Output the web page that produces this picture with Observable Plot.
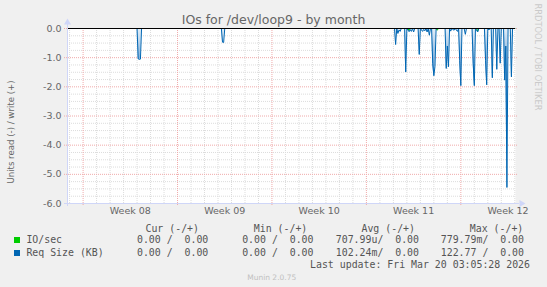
<!DOCTYPE html>
<html><head><meta charset="utf-8">
<script src="https://cdn.jsdelivr.net/npm/d3@7"></script>
<script src="https://cdn.jsdelivr.net/npm/@observablehq/plot@0.6"></script>
<style>
html,body{margin:0;padding:0;background:#f0f0f0;}
#wrap{position:relative;width:547px;height:287px;overflow:hidden;background:#f0f0f0;}
#wrap svg{position:absolute;left:0;top:0;}
.t{position:absolute;white-space:pre;line-height:1;color:#666;font-family:"DejaVu Sans",sans-serif;}
.m{font-family:"DejaVu Sans Mono",monospace;font-size:9.9px;color:#555;}
.sw{position:absolute;width:6px;height:6px;}
</style></head><body><div id="wrap"></div>
<script>
// ---------------- data ----------------
const title = "IOs for /dev/loop9 - by month";
const yAxisLabel = "Units read (-) / write (+)";
const credit = "RRDTOOL / TOBI OETIKER";
const footer = "Munin 2.0.75";
const lastUpdate = "Last update: Fri Mar 20 03:05:28 2026";
const timeRange = ["2026-02-14T20:15Z", "2026-03-20T01:15Z"];
const weekTickDates = ["2026-02-19T12:00Z", "2026-02-26T12:00Z", "2026-03-05T12:00Z", "2026-03-12T12:00Z", "2026-03-19T12:00Z"];
const weekTickLabels = ["Week 08", "Week 09", "Week 10", "Week 11", "Week 12"];
const yTickValues = [0, -1, -2, -3, -4, -5, -6];
const yTickLabels = ["0.0", "-1.0", "-2.0", "-3.0", "-4.0", "-5.0", "-6.0"];
const seriesNames = ["IO/sec", "Req Size (KB)"];
const legendHeaders = ["Cur (-/+)", "Min (-/+)", "Avg (-/+)", "Max (-/+)"];
const curValues = ["0.00 /  0.00", "0.00 /  0.00"];
const minValues = ["0.00 /  0.00", "0.00 /  0.00"];
const avgValues = ["707.99u/  0.00", "102.24m/  0.00"];
const maxValues = ["779.79m/  0.00", "122.77 /  0.00"];

// IO/sec (read side, negative)
const ioTimes = ["2026-02-14T22:00Z", "2026-03-12T02:00Z", "2026-03-12T04:00Z", "2026-03-12T06:00Z",
  "2026-03-14T04:00Z", "2026-03-14T06:00Z", "2026-03-14T08:00Z",
  "2026-03-17T04:00Z", "2026-03-17T06:00Z", "2026-03-17T08:00Z", "2026-03-20T00:00Z"];
const ioValues = [0, 0, -0.07, 0, 0, -0.06, 0, 0, -0.08, 0, 0];

// Req Size (KB) (read side, negative)
const reqTimes = [
  "2026-02-14T22:00Z",
  "2026-02-20T00:00Z", "2026-02-20T02:00Z", "2026-02-20T04:00Z", "2026-02-20T06:00Z", "2026-02-20T08:00Z",
  "2026-02-26T06:00Z", "2026-02-26T08:00Z", "2026-02-26T10:00Z", "2026-02-26T12:00Z",
  "2026-03-11T02:00Z", "2026-03-11T04:00Z", "2026-03-11T06:00Z", "2026-03-11T08:00Z", "2026-03-11T10:00Z", "2026-03-11T12:00Z", "2026-03-11T14:00Z",
  "2026-03-11T20:00Z", "2026-03-11T22:00Z", "2026-03-12T00:00Z",
  "2026-03-12T04:00Z", "2026-03-12T06:00Z", "2026-03-12T08:00Z", "2026-03-12T10:00Z", "2026-03-12T12:00Z", "2026-03-12T14:00Z",
  "2026-03-12T20:00Z", "2026-03-12T22:00Z", "2026-03-13T00:00Z",
  "2026-03-13T04:00Z", "2026-03-13T06:00Z", "2026-03-13T08:00Z", "2026-03-13T10:00Z", "2026-03-13T12:00Z", "2026-03-13T14:00Z",
  "2026-03-13T16:00Z", "2026-03-13T18:00Z",
  "2026-03-13T20:00Z", "2026-03-13T22:00Z", "2026-03-14T00:00Z", "2026-03-14T02:00Z", "2026-03-14T04:00Z",
  "2026-03-14T20:00Z", "2026-03-14T22:00Z", "2026-03-15T00:00Z", "2026-03-15T02:00Z", "2026-03-15T04:00Z",
  "2026-03-15T06:00Z", "2026-03-15T08:00Z", "2026-03-15T12:00Z", "2026-03-15T14:00Z", "2026-03-15T18:00Z", "2026-03-15T20:00Z",
  "2026-03-15T22:00Z", "2026-03-16T00:00Z", "2026-03-16T02:00Z",
  "2026-03-16T06:00Z", "2026-03-16T08:00Z", "2026-03-16T10:00Z",
  "2026-03-16T20:00Z", "2026-03-16T22:00Z", "2026-03-17T00:00Z", "2026-03-17T02:00Z",
  "2026-03-17T06:00Z", "2026-03-17T08:00Z",
  "2026-03-17T18:00Z", "2026-03-17T20:00Z", "2026-03-17T22:00Z", "2026-03-18T00:00Z",
  "2026-03-18T02:00Z", "2026-03-18T04:00Z",
  "2026-03-18T06:00Z", "2026-03-18T08:00Z", "2026-03-18T10:00Z",
  "2026-03-18T14:00Z", "2026-03-18T16:00Z", "2026-03-18T18:00Z",
  "2026-03-18T20:00Z", "2026-03-18T22:00Z", "2026-03-19T00:00Z",
  "2026-03-19T04:00Z", "2026-03-19T06:00Z", "2026-03-19T08:00Z", "2026-03-19T10:00Z", "2026-03-19T12:00Z",
  "2026-03-19T16:00Z", "2026-03-19T18:00Z", "2026-03-19T20:00Z",
  "2026-03-20T00:00Z"
];
const reqValues = [
  0,
  0, -1.04, -1.06, -1.05, 0,
  0, -0.47, -0.48, 0,
  0, -0.55, 0, -0.17, -0.05, -0.10, 0,
  0, -1.49, 0,
  -0.11, -0.04, -0.10, 0, -0.12, 0,
  0, -0.89, 0,
  -0.10, -0.03, -0.08, 0, -0.12, 0,
  -0.23, 0,
  0, -1.20, -1.62, -1.30, 0,
  0, -1.37, -0.60, -1.31, 0,
  -0.09, 0, -0.06, 0, -0.10, 0,
  -1.10, -1.96, 0,
  0, -0.20, 0,
  0, -1.20, -1.96, 0,
  -0.12, 0,
  0, -1.10, -1.93, 0,
  -0.05, 0,
  0, -1.69, 0,
  0, -1.40, 0,
  0, -1.19, 0,
  0, -1.77, -0.60, -5.45, 0,
  0, -1.66, 0,
  0
];

// ---------------- chart ----------------
const seriesColors = ["#00cc00", "#0066b3"];
const parse = s => new Date(s);
const io = ioTimes.map((t, i) => ({t: parse(t), v: ioValues[i]}));
const req = reqTimes.map((t, i) => ({t: parse(t), v: reqValues[i]}));
const [t0, t1] = timeRange.map(parse);
const weekLines = d3.utcMonday.range(t0, t1);
const dayLines = d3.utcDay.range(t0, t1).filter(d => d.getUTCDay() !== 1);
const minorY = d3.range(-24, 1).map(k => k / 4).filter(v => !Number.isInteger(v));
const xLabelMap = new Map(weekTickDates.map((d, i) => [+parse(d), weekTickLabels[i]]));
const yLabelMap = new Map(yTickValues.map((v, i) => [v, yTickLabels[i]]));
const axisColor = "#cfd6f8";
const minorGrid = "#dcdcdc";
const majorGrid = "#f0aaaa";

const chart = Plot.plot({
  width: 547, height: 287,
  marginLeft: 67, marginRight: 32, marginTop: 28, marginBottom: 84,
  style: {background: "transparent", color: "#666", fontFamily: "DejaVu Sans", overflow: "visible"},
  x: {type: "utc", domain: [t0, t1]},
  y: {type: "linear", domain: [-6, 0]},
  marks: [
    Plot.frame({fill: "#ffffff", stroke: "none"}),
    Plot.ruleY(minorY, {stroke: minorGrid, strokeDasharray: "1,1"}),
    Plot.ruleX(dayLines, {stroke: minorGrid, strokeDasharray: "1,1"}),
    Plot.ruleY(yTickValues, {stroke: majorGrid, strokeDasharray: "1,1", insetLeft: -3, insetRight: -3}),
    Plot.ruleX(weekLines, {stroke: majorGrid, strokeDasharray: "1,1", insetBottom: -3}),
    Plot.areaY(req, {x: "t", y: "v", fill: "#8fb8de"}),
    Plot.lineY(io, {x: "t", y: "v", stroke: seriesColors[0], strokeWidth: 1}),
    Plot.lineY(req, {x: "t", y: "v", stroke: seriesColors[1], strokeWidth: 1}),
    Plot.ruleY([0], {stroke: "#000000", strokeWidth: 1}),
    Plot.ruleY([-6], {stroke: axisColor, insetLeft: -3, insetRight: -4}),
    Plot.ruleX([t0], {stroke: axisColor, insetTop: -4, insetBottom: -3}),
    Plot.dot([{t: t1, v: -6}], {x: "t", y: "v", symbol: "triangle", r: 2.6, rotate: 90, fill: axisColor, stroke: "none", dx: 6}),
    Plot.dot([{t: t0, v: 0}], {x: "t", y: "v", symbol: "triangle", r: 2.6, fill: axisColor, stroke: "none", dy: -6}),
    Plot.axisY(yTickValues, {label: null, tickSize: 0, tickPadding: 6, tickFormat: v => yLabelMap.get(v), fontSize: 9.5, fill: "#666"}),
    Plot.axisX(weekTickDates.map(parse), {label: null, tickSize: 0, tickPadding: 4, tickFormat: d => xLabelMap.get(+d), fontSize: 9.5, fill: "#666"})
  ]
});

// soft gradient inside the spikes
const ys = chart.scale("y");
const g0 = ys.apply(0), g1 = ys.apply(-1.6);
d3.select(chart).insert("defs", ":first-child").html(
  `<linearGradient id="spikeFill" gradientUnits="userSpaceOnUse" x1="0" y1="${g0}" x2="0" y2="${g1}">` +
  `<stop offset="0" stop-color="#e6f0f9"/><stop offset="1" stop-color="#4d90cc"/></linearGradient>`);
d3.select(chart).selectAll("g[aria-label=area] path").attr("fill", "url(#spikeFill)");

const wrap = document.getElementById("wrap");
wrap.appendChild(chart);

function label(text, x, y, opts = {}) {
  const {anchor = "start", cls = "t", size, color, rotate = 0} = opts;
  const el = document.createElement("div");
  el.className = cls;
  el.textContent = text;
  el.style.left = x + "px";
  el.style.top = y + "px";
  if (size) el.style.fontSize = size + "px";
  if (color) el.style.color = color;
  const tx = anchor === "start" ? "0" : anchor === "end" ? "-100%" : "-50%";
  el.style.transform = `translate(${tx},-50%)` + (rotate ? ` rotate(${rotate}deg)` : "");
  wrap.appendChild(el);
  return el;
}

label(title, 273.5, 19.8, {anchor: "middle", size: 12.5, color: "#666"});
label(yAxisLabel, 11, 131.7, {anchor: "middle", size: 8.6, color: "#666", rotate: -90});
label(credit, 537.5, 57, {anchor: "middle", size: 8.3, color: "#cacaca", rotate: 90});
label(footer, 271.7, 278, {anchor: "middle", size: 7.5, color: "#c0c0c0"});

const mono = "t m";
const headerRight = [199, 307.3, 415, 523.3];
const colRight = [208.3, 313.5, 419, 524];
const rowY = [240.3, 252.8];
legendHeaders.forEach((h, i) => label(h, headerRight[i], 228.5, {anchor: "end", cls: mono}));
seriesNames.forEach((name, r) => {
  const sw = document.createElement("div");
  sw.className = "sw";
  sw.style.left = "13.5px";
  sw.style.top = (rowY[r] - 3) + "px";
  sw.style.background = seriesColors[r];
  wrap.appendChild(sw);
  label(name, 26.4, rowY[r], {cls: mono});
  [curValues, minValues, avgValues, maxValues].forEach((col, c) =>
    label(col[r], colRight[c], rowY[r], {anchor: "end", cls: mono}));
});
label(lastUpdate, 530, 265.3, {anchor: "end", cls: mono});
</script>
</body></html>
